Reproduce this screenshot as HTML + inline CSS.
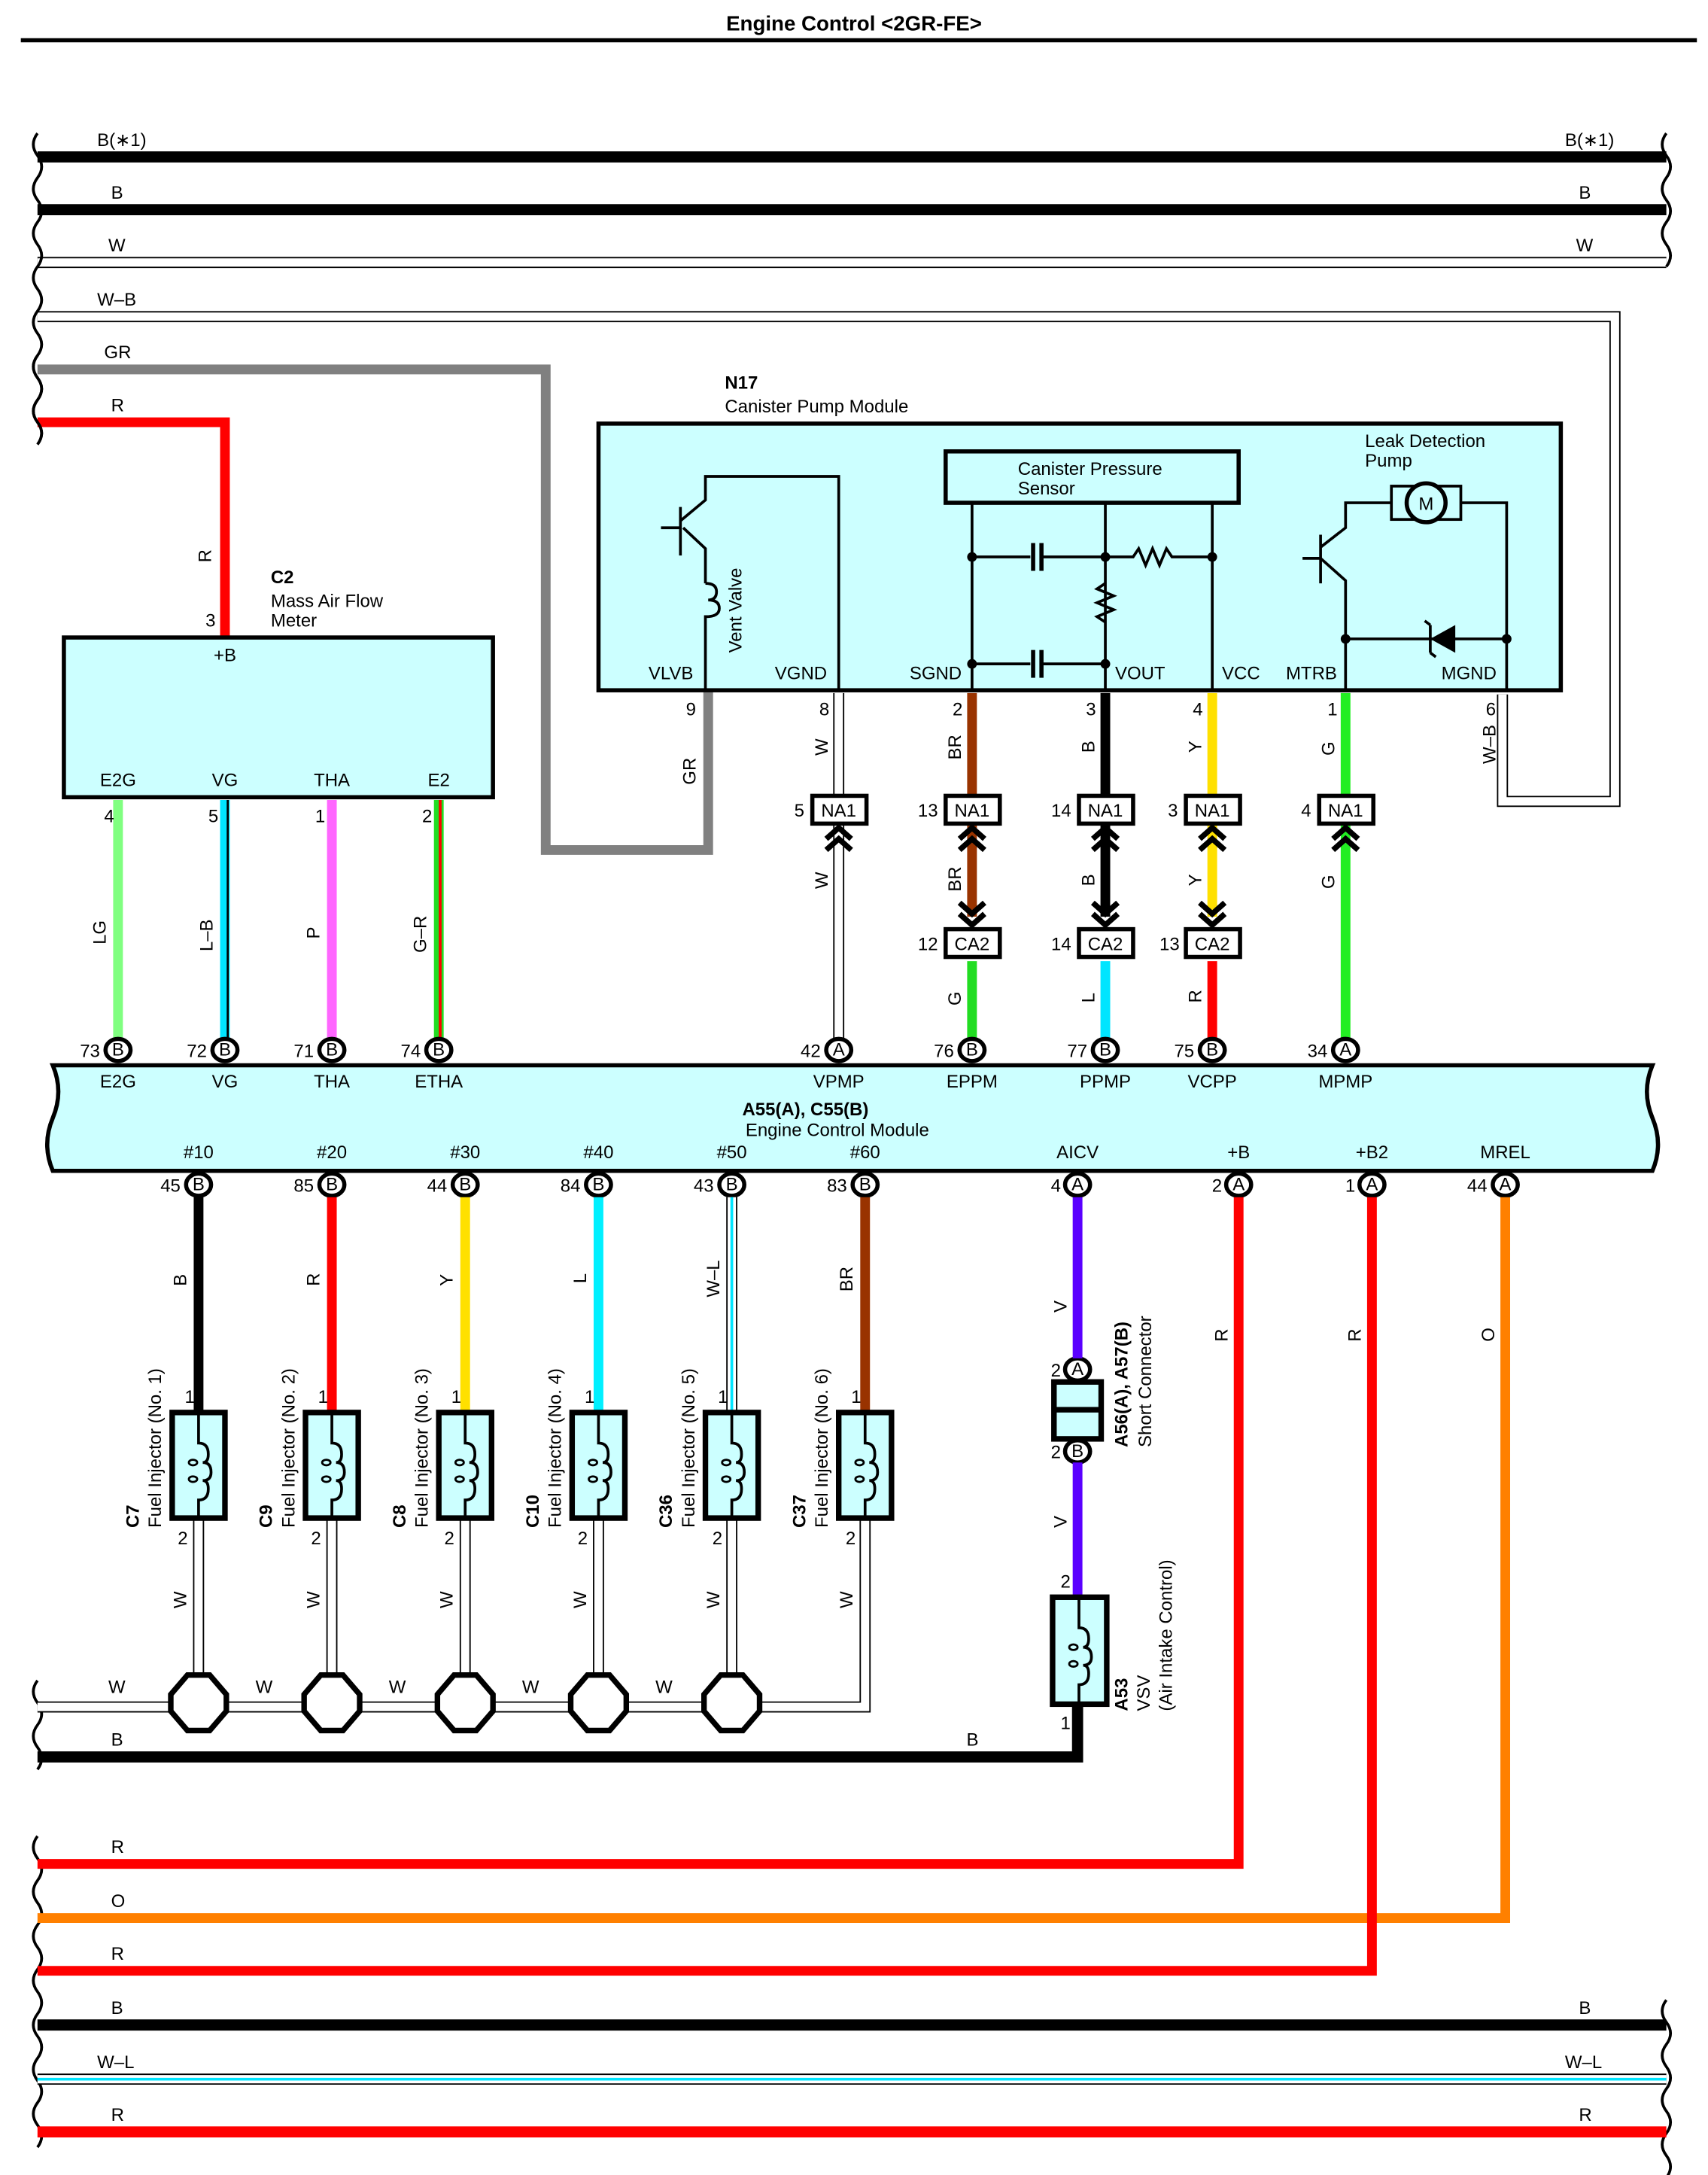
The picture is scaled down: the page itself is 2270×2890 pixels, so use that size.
<!DOCTYPE html>
<html><head><meta charset="utf-8"><style>
html,body{margin:0;padding:0;background:#fff}
svg{display:block}
text{font-family:"Liberation Sans",sans-serif;font-size:13px;fill:#000}
.b{font-weight:bold}
</style></head><body>
<svg width="2270" height="2890" viewBox="0 0 1230 1566" preserveAspectRatio="none" xmlns="http://www.w3.org/2000/svg">
<defs>
<g id="pin"><ellipse cx="0" cy="0" rx="9" ry="8" fill="#fff" stroke="#000" stroke-width="3"/></g>
<g id="oct"><polygon points="-8,-20 8,-20 20,-6 20,6 8,20 -8,20 -20,6 -20,-6" fill="#fff" stroke="#000" stroke-width="4"/></g>
<g id="inj"><rect x="-19" y="0" width="38" height="76" fill="#ccffff" stroke="#000" stroke-width="4"/><path d="M0,0 V22 q7,0 7,8 q0,6 -4,6 q6,0 6,7 q0,6 -6,6 q4,0 4,6 q0,8 -7,8 V76" fill="none" stroke="#000" stroke-width="2"/><ellipse cx="-4" cy="36" rx="3" ry="2" fill="none" stroke="#000" stroke-width="1.5"/><ellipse cx="-4" cy="48" rx="3" ry="2" fill="none" stroke="#000" stroke-width="1.5"/></g>
<g id="up"><path d="M-9,8 L0,0 L9,8 M-9,16 L0,8 L9,16" fill="none" stroke="#000" stroke-width="4"/></g>
<g id="dn"><path d="M-9,-8 L0,0 L9,-8 M-9,-16 L0,-8 L9,-16" fill="none" stroke="#000" stroke-width="4"/></g>
</defs>

<text x="615" y="22" text-anchor="middle" class="b" style="font-size:15px">Engine Control &lt;2GR-FE&gt;</text>
<line x1="15" y1="29" x2="1222" y2="29" stroke="#000" stroke-width="3"/>

<!-- top buses -->
<line x1="27" y1="113" x2="1200" y2="113" stroke="#000" stroke-width="8"/>
<line x1="27" y1="151" x2="1200" y2="151" stroke="#000" stroke-width="8"/>
<line x1="27" y1="189" x2="1200" y2="189" stroke="#000" stroke-width="8"/>
<line x1="27" y1="189" x2="1200" y2="189" stroke="#fff" stroke-width="6"/>
<path d="M27,228 H1163 V577 H1082 V500" fill="none" stroke="#000" stroke-width="8"/>
<path d="M27,228 H1163 V577 H1082 V500" fill="none" stroke="#fff" stroke-width="6"/>
<path d="M27,266 H393 V612 H510 V497" fill="none" stroke="#808080" stroke-width="7"/>
<path d="M27,304 H162 V459" fill="none" stroke="#ff0000" stroke-width="7"/>
<g stroke="#000" stroke-width="2" fill="none">
<path d="M27,96 q-6,8 0,16 q6,8 0,16 q-6,8 0,16 q6,8 0,16 q-6,8 0,16 q6,8 0,16 q-6,8 0,16 q6,8 0,16 q-6,8 0,16 q6,8 0,16 q-6,8 0,16 q6,8 0,16 q-6,8 0,16 q6,8 0,16"/>
<path d="M27,256 q-6,8 0,16 q6,8 0,16 q-6,8 0,16 q6,8 0,16"/>
<path d="M1200,96 q-6,8 0,16 q6,8 0,16 q-6,8 0,16 q6,8 0,16 q-6,8 0,16 q6,8 0,16"/>
<path d="M27,1322 q-6,8 0,16 q6,8 0,16 q-6,8 0,16 q6,8 0,16 q-6,8 0,16 q6,8 0,16 q-6,8 0,16 q6,8 0,16 q-6,8 0,16 q6,8 0,16 q-6,8 0,16 q6,8 0,16 q-6,8 0,16 q6,8 0,16"/>
<path d="M1200,1440 q-6,8 0,16 q6,8 0,16 q-6,8 0,16 q6,8 0,16 q-6,8 0,16 q6,8 0,16 q-6,8 0,16 q6,8 0,16 q-6,8 0,16 q6,8 0,16"/>
<path d="M27,1210 q-6,8 0,16 q6,8 0,16 q-6,8 0,16 q6,8 0,16"/>
</g>
<text x="70" y="105">B(∗1)</text><text x="1127" y="105">B(∗1)</text>
<text x="80" y="143">B</text><text x="1137" y="143">B</text>
<text x="78" y="181">W</text><text x="1135" y="181">W</text>
<text x="70" y="220">W–B</text>
<text x="75" y="258">GR</text>
<text x="80" y="296">R</text>

<!-- C2 -->
<text x="152" y="405" transform="rotate(-90 152 405)">R</text>
<text x="148" y="451">3</text>
<text x="195" y="420" class="b">C2</text>
<text x="195" y="437">Mass Air Flow</text>
<text x="195" y="451">Meter</text>
<rect x="46" y="459" width="309" height="115" fill="#ccffff" stroke="#000" stroke-width="3"/>
<text x="162" y="476" text-anchor="middle">+B</text>
<text x="85" y="566" text-anchor="middle">E2G</text>
<text x="162" y="566" text-anchor="middle">VG</text>
<text x="239" y="566" text-anchor="middle">THA</text>
<text x="316" y="566" text-anchor="middle">E2</text>
<line x1="85" y1="576" x2="85" y2="748" stroke="#80ff80" stroke-width="7"/>
<line x1="162" y1="576" x2="162" y2="748" stroke="#00e5ff" stroke-width="7"/><line x1="164" y1="576" x2="164" y2="748" stroke="#000" stroke-width="1.5"/>
<line x1="239" y1="576" x2="239" y2="748" stroke="#ff66ff" stroke-width="7"/>
<line x1="316" y1="576" x2="316" y2="748" stroke="#22dd22" stroke-width="7"/><line x1="317" y1="576" x2="317" y2="748" stroke="#ff0000" stroke-width="2"/>
<text x="75" y="592">4</text><text x="150" y="592">5</text><text x="227" y="592">1</text><text x="304" y="592">2</text>
<text x="76" y="680" transform="rotate(-90 76 680)">LG</text>
<text x="153" y="685" transform="rotate(-90 153 685)">L–B</text>
<text x="230" y="676" transform="rotate(-90 230 676)">P</text>
<text x="307" y="686" transform="rotate(-90 307 686)">G–R</text>

<!-- N17 -->
<text x="522" y="280" class="b">N17</text>
<text x="522" y="297">Canister Pump Module</text>
<rect x="431" y="305" width="693" height="192" fill="#ccffff" stroke="#000" stroke-width="3"/>
<g fill="none" stroke="#000" stroke-width="2">
<path d="M508,497 V450 M508,420 V395 L492,380 M476,380 H490 M490,365 V400 M490,375 L508,360 V343 H604 V497"/>
<path d="M508,420 q8,0 8,6 q0,6 -6,6 q8,0 8,6 q0,6 -10,6 V450"/>
<path d="M700,362 V497 M796,362 V497 M873,362 V497 M700,401 H742 M750,401 H796 M700,478 H742 M750,478 H796 M796,401 H816 l4,-6 l5,12 l5,-12 l5,12 l5,-12 l4,6 H873 M796,401 V420 l-6,4 l12,5 l-12,5 l12,5 l-12,5 l6,4 V478"/>
<path d="M969,497 V418 L951,402 M938,402 H950 M951,385 V420 M951,394 L969,380 V362 H1004 M1050,362 H1085 V497 M969,460 H1085"/>
</g>
<line x1="744" y1="391" x2="744" y2="411" stroke="#000" stroke-width="3"/><line x1="750" y1="391" x2="750" y2="411" stroke="#000" stroke-width="3"/>
<line x1="744" y1="468" x2="744" y2="488" stroke="#000" stroke-width="3"/><line x1="750" y1="468" x2="750" y2="488" stroke="#000" stroke-width="3"/>
<polygon points="1030,460 1048,450 1048,470" fill="#000"/><path d="M1030,450 V470 M1030,450 l-4,-3 M1030,470 l4,3" stroke="#000" stroke-width="2" fill="none"/>
<rect x="1002" y="350" width="50" height="24" fill="#ccffff" stroke="#000" stroke-width="2"/>
<circle cx="1027" cy="362" r="14" fill="#ccffff" stroke="#000" stroke-width="3"/>
<text x="1027" y="367" text-anchor="middle">M</text>
<g fill="#000"><circle cx="700" cy="401" r="3.5"/><circle cx="796" cy="401" r="3.5"/><circle cx="873" cy="401" r="3.5"/><circle cx="700" cy="478" r="3.5"/><circle cx="796" cy="478" r="3.5"/><circle cx="969" cy="460" r="3.5"/><circle cx="1085" cy="460" r="3.5"/></g>
<rect x="681" y="325" width="211" height="37" fill="#ccffff" stroke="#000" stroke-width="3"/>
<text x="733" y="342">Canister Pressure</text><text x="733" y="356">Sensor</text>
<text x="983" y="322">Leak Detection</text><text x="983" y="336">Pump</text>
<text x="534" y="470" transform="rotate(-90 534 470)">Vent Valve</text>
<text x="467" y="489">VLVB</text><text x="558" y="489">VGND</text><text x="655" y="489">SGND</text>
<text x="803" y="489">VOUT</text><text x="880" y="489">VCC</text><text x="926" y="489">MTRB</text><text x="1038" y="489">MGND</text>
<text x="494" y="515">9</text><text x="590" y="515">8</text><text x="686" y="515">2</text><text x="782" y="515">3</text><text x="859" y="515">4</text><text x="956" y="515">1</text><text x="1070" y="515">6</text>
<text x="501" y="565" transform="rotate(-90 501 565)">GR</text>
<text x="1077" y="550" transform="rotate(-90 1077 550)">W–B</text>

<!-- N17 wires -->
<line x1="604" y1="499" x2="604" y2="748" stroke="#000" stroke-width="8"/><line x1="604" y1="499" x2="604" y2="748" stroke="#fff" stroke-width="6"/>
<line x1="700" y1="499" x2="700" y2="660" stroke="#993300" stroke-width="7"/>
<line x1="700" y1="692" x2="700" y2="748" stroke="#22dd22" stroke-width="7"/>
<line x1="796" y1="499" x2="796" y2="660" stroke="#000" stroke-width="7"/>
<line x1="796" y1="692" x2="796" y2="748" stroke="#00e5ff" stroke-width="7"/>
<line x1="873" y1="499" x2="873" y2="660" stroke="#ffe000" stroke-width="7"/>
<line x1="873" y1="692" x2="873" y2="748" stroke="#ff0000" stroke-width="7"/>
<line x1="969" y1="499" x2="969" y2="748" stroke="#22ee22" stroke-width="7"/>
<g fill="#fff" stroke="#000" stroke-width="3">
<rect x="585" y="573" width="39" height="20"/><rect x="681" y="573" width="39" height="20"/><rect x="777" y="573" width="39" height="20"/><rect x="854" y="573" width="39" height="20"/><rect x="950" y="573" width="39" height="20"/>
<rect x="681" y="669" width="39" height="20"/><rect x="777" y="669" width="39" height="20"/><rect x="854" y="669" width="39" height="20"/>
</g>
<use href="#up" x="604" y="596"/><use href="#up" x="700" y="596"/><use href="#up" x="796" y="596"/><use href="#up" x="873" y="596"/><use href="#up" x="969" y="596"/>
<use href="#dn" x="700" y="666"/><use href="#dn" x="796" y="666"/><use href="#dn" x="873" y="666"/>
<g text-anchor="middle"><text x="604" y="588">NA1</text><text x="700" y="588">NA1</text><text x="796" y="588">NA1</text><text x="873" y="588">NA1</text><text x="969" y="588">NA1</text>
<text x="700" y="684">CA2</text><text x="796" y="684">CA2</text><text x="873" y="684">CA2</text></g>
<text x="572" y="588">5</text><text x="661" y="588">13</text><text x="757" y="588">14</text><text x="841" y="588">3</text><text x="937" y="588">4</text>
<text x="661" y="684">12</text><text x="757" y="684">14</text><text x="835" y="684">13</text>
<g>
<text x="596" y="544" transform="rotate(-90 596 544)">W</text><text x="596" y="640" transform="rotate(-90 596 640)">W</text>
<text x="692" y="547" transform="rotate(-90 692 547)">BR</text><text x="692" y="642" transform="rotate(-90 692 642)">BR</text><text x="692" y="724" transform="rotate(-90 692 724)">G</text>
<text x="788" y="542" transform="rotate(-90 788 542)">B</text><text x="788" y="638" transform="rotate(-90 788 638)">B</text><text x="788" y="722" transform="rotate(-90 788 722)">L</text>
<text x="865" y="542" transform="rotate(-90 865 542)">Y</text><text x="865" y="638" transform="rotate(-90 865 638)">Y</text><text x="865" y="722" transform="rotate(-90 865 722)">R</text>
<text x="961" y="544" transform="rotate(-90 961 544)">G</text><text x="961" y="640" transform="rotate(-90 961 640)">G</text>
</g>

<!-- ECM -->
<path d="M38,767 H1190 q-8,19 0,38 q8,19 0,38 H38 q-8,-19 0,-38 q8,-19 0,-38 Z" fill="#ccffff" stroke="#000" stroke-width="3"/>
<g text-anchor="middle">
<text x="85" y="783">E2G</text><text x="162" y="783">VG</text><text x="239" y="783">THA</text><text x="316" y="783">ETHA</text>
<text x="604" y="783">VPMP</text><text x="700" y="783">EPPM</text><text x="796" y="783">PPMP</text><text x="873" y="783">VCPP</text><text x="969" y="783">MPMP</text>
<text x="580" y="803" class="b">A55(A), C55(B)</text><text x="603" y="818">Engine Control Module</text>
<text x="143" y="834">#10</text><text x="239" y="834">#20</text><text x="335" y="834">#30</text><text x="431" y="834">#40</text><text x="527" y="834">#50</text><text x="623" y="834">#60</text>
<text x="776" y="834">AICV</text><text x="892" y="834">+B</text><text x="988" y="834">+B2</text><text x="1084" y="834">MREL</text>
</g>
<g>
<use href="#pin" x="85" y="756"/><use href="#pin" x="162" y="756"/><use href="#pin" x="239" y="756"/><use href="#pin" x="316" y="756"/>
<use href="#pin" x="604" y="756"/><use href="#pin" x="700" y="756"/><use href="#pin" x="796" y="756"/><use href="#pin" x="873" y="756"/><use href="#pin" x="969" y="756"/>
<use href="#pin" x="143" y="853"/><use href="#pin" x="239" y="853"/><use href="#pin" x="335" y="853"/><use href="#pin" x="431" y="853"/><use href="#pin" x="527" y="853"/><use href="#pin" x="623" y="853"/>
<use href="#pin" x="776" y="853"/><use href="#pin" x="892" y="853"/><use href="#pin" x="988" y="853"/><use href="#pin" x="1084" y="853"/>
<use href="#pin" x="776" y="986"/><use href="#pin" x="776" y="1045"/>
</g>
<g text-anchor="middle" style="font-size:12px">
<text x="85" y="760">B</text><text x="162" y="760">B</text><text x="239" y="760">B</text><text x="316" y="760">B</text>
<text x="604" y="760">A</text><text x="700" y="760">B</text><text x="796" y="760">B</text><text x="873" y="760">B</text><text x="969" y="760">A</text>
<text x="143" y="857">B</text><text x="239" y="857">B</text><text x="335" y="857">B</text><text x="431" y="857">B</text><text x="527" y="857">B</text><text x="623" y="857">B</text>
<text x="776" y="857">A</text><text x="892" y="857">A</text><text x="988" y="857">A</text><text x="1084" y="857">A</text>
<text x="776" y="990">A</text><text x="776" y="1049">B</text>
</g>
<g text-anchor="end">
<text x="72" y="761">73</text><text x="149" y="761">72</text><text x="226" y="761">71</text><text x="303" y="761">74</text>
<text x="591" y="761">42</text><text x="687" y="761">76</text><text x="783" y="761">77</text><text x="860" y="761">75</text><text x="956" y="761">34</text>
<text x="130" y="858">45</text><text x="226" y="858">85</text><text x="322" y="858">44</text><text x="418" y="858">84</text><text x="514" y="858">43</text><text x="610" y="858">83</text>
<text x="764" y="858">4</text><text x="880" y="858">2</text><text x="976" y="858">1</text><text x="1071" y="858">44</text>
<text x="764" y="991">2</text><text x="764" y="1050">2</text><text x="771" y="1143">2</text><text x="771" y="1245">1</text>
</g>

<!-- injector wires -->
<line x1="143" y1="862" x2="143" y2="1017" stroke="#000" stroke-width="7"/>
<line x1="239" y1="862" x2="239" y2="1017" stroke="#ff0000" stroke-width="7"/>
<line x1="335" y1="862" x2="335" y2="1017" stroke="#ffe000" stroke-width="7"/>
<line x1="431" y1="862" x2="431" y2="1017" stroke="#00f0ff" stroke-width="7"/>
<line x1="527" y1="862" x2="527" y2="1017" stroke="#000" stroke-width="8"/><line x1="527" y1="862" x2="527" y2="1017" stroke="#fff" stroke-width="6"/><line x1="527" y1="862" x2="527" y2="1017" stroke="#00e5ff" stroke-width="2"/>
<line x1="623" y1="862" x2="623" y2="1017" stroke="#993300" stroke-width="7"/>
<g fill="none" stroke="#000" stroke-width="8">
<path d="M143,1093 V1226 M239,1093 V1226 M335,1093 V1226 M431,1093 V1226 M527,1093 V1226 M623,1093 V1229 H27"/>
</g>
<g fill="none" stroke="#fff" stroke-width="6">
<path d="M143,1093 V1226 M239,1093 V1226 M335,1093 V1226 M431,1093 V1226 M527,1093 V1226 M623,1093 V1229 H27"/>
</g>
<path d="M27,1265 H776 V1228" fill="none" stroke="#000" stroke-width="8"/>
<use href="#oct" x="143" y="1226"/><use href="#oct" x="239" y="1226"/><use href="#oct" x="335" y="1226"/><use href="#oct" x="431" y="1226"/><use href="#oct" x="527" y="1226"/>
<use href="#inj" x="143" y="1017"/><use href="#inj" x="239" y="1017"/><use href="#inj" x="335" y="1017"/><use href="#inj" x="431" y="1017"/><use href="#inj" x="527" y="1017"/><use href="#inj" x="623" y="1017"/>
<g>
<text x="133" y="1010">1</text><text x="229" y="1010">1</text><text x="325" y="1010">1</text><text x="421" y="1010">1</text><text x="517" y="1010">1</text><text x="613" y="1010">1</text>
<text x="128" y="1112">2</text><text x="224" y="1112">2</text><text x="320" y="1112">2</text><text x="416" y="1112">2</text><text x="513" y="1112">2</text><text x="609" y="1112">2</text>
<text x="134" y="926" transform="rotate(-90 134 926)">B</text><text x="230" y="926" transform="rotate(-90 230 926)">R</text><text x="326" y="926" transform="rotate(-90 326 926)">Y</text><text x="422" y="924" transform="rotate(-90 422 924)">L</text><text x="518" y="934" transform="rotate(-90 518 934)">W–L</text><text x="614" y="930" transform="rotate(-90 614 930)">BR</text>
<text x="134" y="1158" transform="rotate(-90 134 1158)">W</text><text x="230" y="1158" transform="rotate(-90 230 1158)">W</text><text x="326" y="1158" transform="rotate(-90 326 1158)">W</text><text x="422" y="1158" transform="rotate(-90 422 1158)">W</text><text x="518" y="1158" transform="rotate(-90 518 1158)">W</text><text x="614" y="1158" transform="rotate(-90 614 1158)">W</text>
<text x="78" y="1219">W</text><text x="184" y="1219">W</text><text x="280" y="1219">W</text><text x="376" y="1219">W</text><text x="472" y="1219">W</text>
<text x="80" y="1257">B</text><text x="696" y="1257">B</text>
</g>
<g style="font-size:13px">
<text x="100" y="1100" transform="rotate(-90 100 1100)" class="b">C7</text><text x="116" y="1100" transform="rotate(-90 116 1100)">Fuel Injector (No. 1)</text>
<text x="196" y="1100" transform="rotate(-90 196 1100)" class="b">C9</text><text x="212" y="1100" transform="rotate(-90 212 1100)">Fuel Injector (No. 2)</text>
<text x="292" y="1100" transform="rotate(-90 292 1100)" class="b">C8</text><text x="308" y="1100" transform="rotate(-90 308 1100)">Fuel Injector (No. 3)</text>
<text x="388" y="1100" transform="rotate(-90 388 1100)" class="b">C10</text><text x="404" y="1100" transform="rotate(-90 404 1100)">Fuel Injector (No. 4)</text>
<text x="484" y="1100" transform="rotate(-90 484 1100)" class="b">C36</text><text x="500" y="1100" transform="rotate(-90 500 1100)">Fuel Injector (No. 5)</text>
<text x="580" y="1100" transform="rotate(-90 580 1100)" class="b">C37</text><text x="596" y="1100" transform="rotate(-90 596 1100)">Fuel Injector (No. 6)</text>
</g>

<!-- AICV -->
<line x1="776" y1="862" x2="776" y2="978" stroke="#5a00ff" stroke-width="7"/>
<line x1="776" y1="1053" x2="776" y2="1150" stroke="#5a00ff" stroke-width="7"/>
<rect x="759" y="995" width="34" height="41" fill="#ccffff" stroke="#000" stroke-width="4"/>
<line x1="759" y1="1015" x2="793" y2="1015" stroke="#000" stroke-width="4"/>
<rect x="758" y="1150" width="39" height="77" fill="#ccffff" stroke="#000" stroke-width="4"/>
<path d="M777,1150 V1172 q7,0 7,8 q0,6 -4,6 q6,0 6,7 q0,6 -6,6 q4,0 4,6 q0,8 -7,8 V1227" fill="none" stroke="#000" stroke-width="2"/>
<ellipse cx="773" cy="1186" rx="3" ry="2" fill="none" stroke="#000" stroke-width="1.5"/><ellipse cx="773" cy="1198" rx="3" ry="2" fill="none" stroke="#000" stroke-width="1.5"/>
<text x="768" y="945" transform="rotate(-90 768 945)">V</text><text x="768" y="1100" transform="rotate(-90 768 1100)">V</text>
<text x="812" y="1042" transform="rotate(-90 812 1042)" class="b">A56(A), A57(B)</text>
<text x="829" y="1042" transform="rotate(-90 829 1042)">Short Connector</text>
<text x="812" y="1232" transform="rotate(-90 812 1232)" class="b">A53</text>
<text x="828" y="1232" transform="rotate(-90 828 1232)">VSV</text>
<text x="844" y="1232" transform="rotate(-90 844 1232)">(Air Intake Control)</text>

<!-- +B, +B2, MREL -->
<path d="M892,862 V1342 H27" fill="none" stroke="#ff0000" stroke-width="7"/>
<path d="M1084,862 V1381 H27" fill="none" stroke="#ff8000" stroke-width="7"/>
<path d="M988,862 V1419 H27" fill="none" stroke="#ff0000" stroke-width="7"/>
<text x="884" y="966" transform="rotate(-90 884 966)">R</text>
<text x="980" y="966" transform="rotate(-90 980 966)">R</text>
<text x="1076" y="966" transform="rotate(-90 1076 966)">O</text>
<text x="80" y="1334">R</text><text x="80" y="1373">O</text><text x="80" y="1411">R</text>

<!-- bottom buses -->
<line x1="27" y1="1458" x2="1200" y2="1458" stroke="#000" stroke-width="8"/>
<line x1="27" y1="1497" x2="1200" y2="1497" stroke="#000" stroke-width="8"/>
<line x1="27" y1="1497" x2="1200" y2="1497" stroke="#fff" stroke-width="6"/>
<line x1="27" y1="1497" x2="1200" y2="1497" stroke="#00e5ff" stroke-width="2"/>
<line x1="27" y1="1535" x2="1200" y2="1535" stroke="#ff0000" stroke-width="8"/>
<text x="80" y="1450">B</text><text x="1137" y="1450">B</text>
<text x="70" y="1489">W–L</text><text x="1127" y="1489">W–L</text>
<text x="80" y="1527">R</text><text x="1137" y="1527">R</text>
</svg>
</body></html>
